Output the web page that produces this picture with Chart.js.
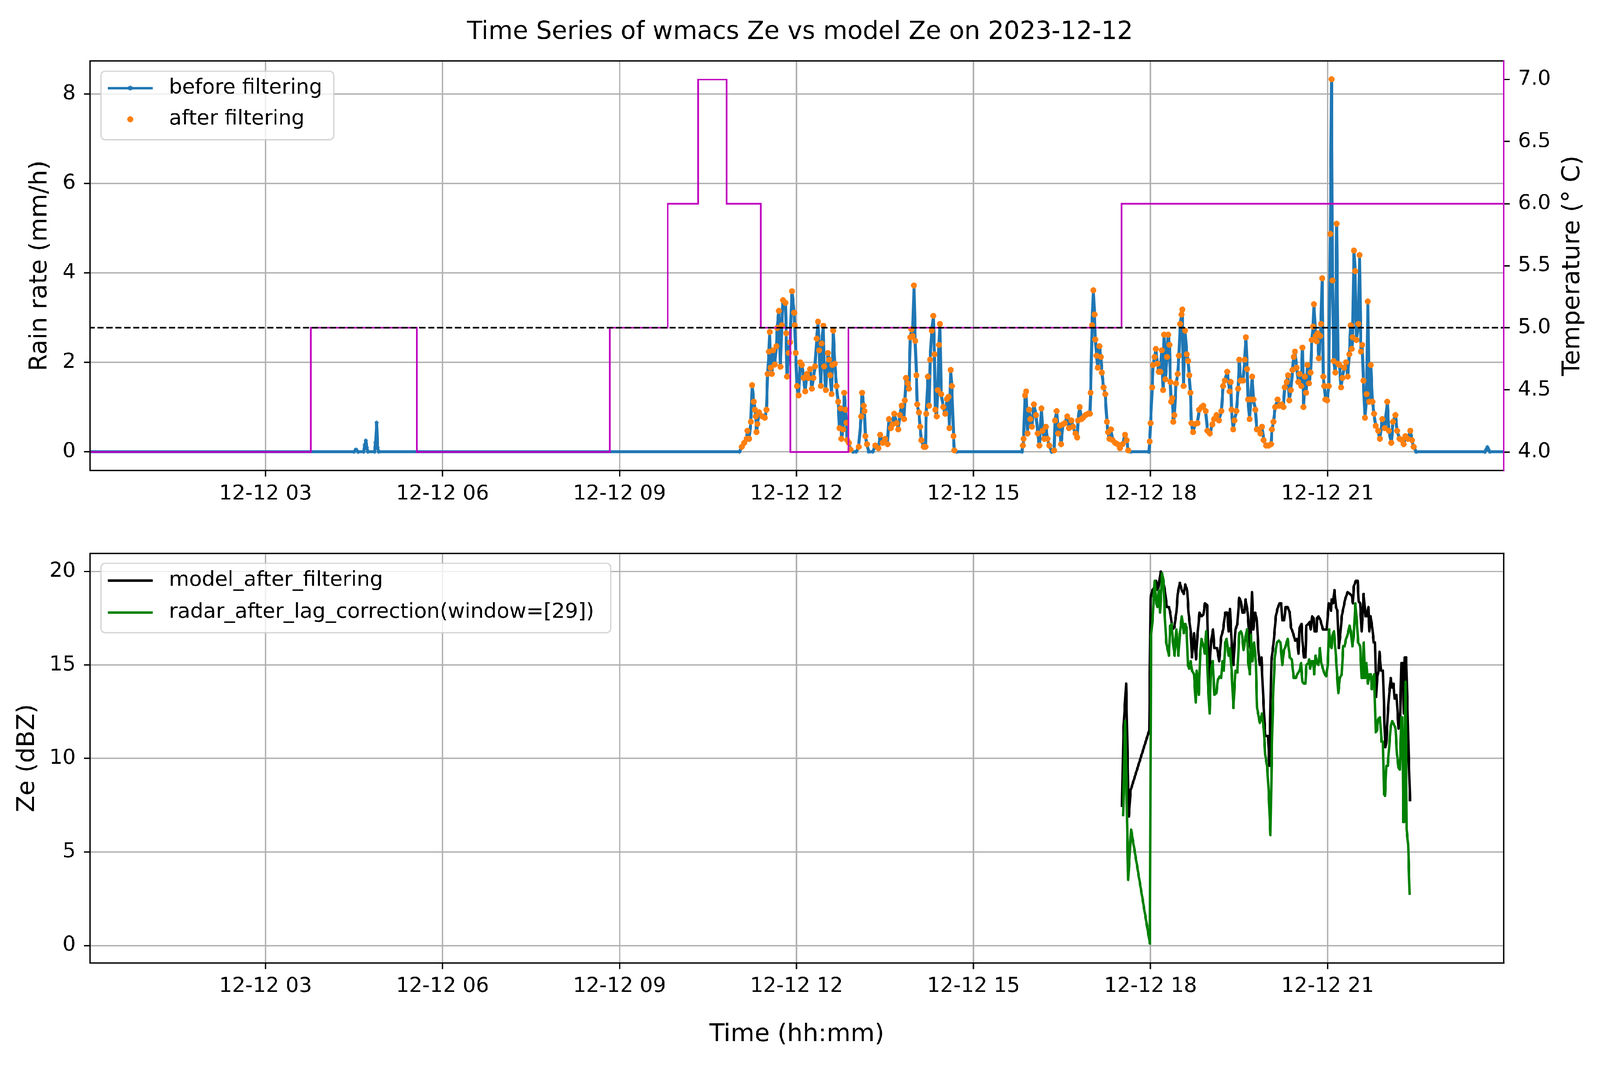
<!DOCTYPE html>
<html>
<head>
<meta charset="utf-8">
<title>Time Series of wmacs Ze vs model Ze on 2023-12-12</title>
<script src="https://cdn.jsdelivr.net/npm/chart.js@4.4.1/dist/chart.umd.min.js"></script>
<style>
  html, body { margin: 0; padding: 0; width: 100%; height: 100%; overflow: hidden; background: #fff; }
  #wrap { position: fixed; left: 0; top: 0; width: 100vw; height: 100vh; overflow: hidden; background: #fff; }
  #page { position: absolute; left: 0; top: 0; width: 5263px; background: #fff; transform-origin: 0 0; }
  canvas { position: absolute; left: 0; }
</style>
</head>
<body>
<div id="wrap">
  <div id="page">
    <canvas id="rainChart"></canvas>
    <canvas id="zeChart"></canvas>
  </div>
</div>
<script>
// Time axis: minutes after 2023-12-12 00:00
const tickMinutes = [180, 360, 540, 720, 900, 1080, 1260];
const tickLabels = ['12-12 03', '12-12 06', '12-12 09', '12-12 12', '12-12 15', '12-12 18', '12-12 21'];

// Rain rate before filtering (mm/h)
const rainTimes = [
  0, 270, 272, 274, 280, 281, 282, 283, 284, 291, 292, 293, 294, 295, 662,
  664.3, 666.8, 669.3, 670.0, 671.8, 673.5, 674.8, 676.5, 677.7, 678.5, 679.3, 680.2, 681.9, 685.2, 687.7,
  689.4, 690.6, 691.9, 692.7, 693.6, 694.9, 696.1, 697.8, 699.5, 700.3, 702.0, 703.6, 705.0, 706.2, 708.7,
  709.5, 710.3, 712.0, 713.4, 715.4, 717.5, 718.2, 719.2, 720.4, 722.1, 723.7, 725.4, 727.1, 728.8, 730.4,
  732.1, 733.8, 735.5, 737.2, 738.8, 740.5, 741.8, 743.0, 744.7, 745.5, 747.2, 748.0, 749.7, 751.9, 753.1,
  754.2, 755.6, 756.4, 757.3, 758.9, 760.6, 762.3, 763.6, 764.8, 765.6, 767.3, 768.5, 769.8, 770.7, 771.5,
  773.2, 774.8, 777.4, 780.7, 783.2, 785.7, 786.7, 788.3, 789.1, 790.0, 791.6, 793.3, 797.5, 800.0, 803.3,
  805.0, 807.5, 810.0, 812.5, 813.9, 815.9, 817.6, 819.3, 821.8, 823.4, 825.1, 826.8, 829.3, 830.1, 831.3,
  833.0, 834.3, 835.7, 836.8, 838.0, 839.4, 840.7, 841.9, 842.7, 844.4, 845.7, 846.9, 849.4, 851.1, 851.9,
  853.6, 854.8, 855.8, 857.5, 859.1, 860.3, 861.1, 862.5, 863.6, 864.8, 865.8, 867.0, 869.2, 871.2, 872.9,
  874.5, 875.4, 876.7, 877.9, 879.6, 880.4, 882.9,
  949.3, 950.1, 950.9, 952.3, 953.5, 954.8, 956.5, 957.6, 959.3, 961.3, 963.5, 965.2, 966.9, 969.0, 970.2,
  971.9, 973.6, 975.2, 976.9, 979.4, 981.9, 982.8, 984.5, 986.1, 987.8, 989.0, 990.8, 992.8, 995.3, 997.0,
  999.5, 1001.2, 1003.7, 1005.4, 1006.2, 1007.9, 1009.6, 1011.3, 1013.8, 1016.3, 1018.3, 1019.0, 1020.5, 1021.8, 1023.0,
  1023.8, 1025.0, 1026.3, 1028.0, 1029.4, 1030.5, 1032.2, 1033.9, 1035.6, 1036.7, 1038.1, 1039.7, 1041.4, 1043.9, 1046.4,
  1048.9, 1051.5, 1054.0, 1055.7, 1057.3, 1059.8, 1078.3, 1079.1, 1080.0, 1081.6, 1082.5, 1084.1, 1085.3, 1087.0, 1088.3,
  1090.0, 1091.3, 1092.7, 1093.7, 1095.0, 1096.7, 1097.9, 1099.2, 1100.1, 1100.9, 1102.1, 1103.1, 1104.2, 1105.9, 1107.6,
  1108.8, 1110.1, 1111.5, 1112.3, 1113.5, 1115.1, 1116.8, 1118.2, 1119.3, 1120.5, 1121.5, 1123.2, 1125.2, 1127.7, 1129.4,
  1131.9, 1133.6, 1136.1, 1137.8, 1140.3, 1142.8, 1144.5, 1147.0, 1149.5, 1152.0, 1153.7, 1155.4, 1157.9, 1160.4,
  1161.5, 1162.3, 1164.0, 1165.2, 1167.3, 1169.0, 1170.2, 1171.5, 1174.0, 1175.7, 1176.9, 1178.2, 1179.1, 1180.7, 1181.9,
  1183.3, 1184.6, 1186.6, 1188.0, 1190.0, 1191.6, 1193.3, 1195.0, 1197.5, 1200.0, 1202.5, 1203.4, 1205.0, 1206.7, 1209.2,
  1210.9, 1213.4, 1215.1, 1216.4, 1218.4, 1219.8, 1221.0, 1222.6, 1224.3, 1225.5, 1226.8, 1228.5, 1230.2, 1231.5, 1233.2,
  1234.4, 1235.5, 1236.9, 1238.2, 1239.4, 1241.1, 1242.7, 1243.9, 1245.3, 1246.1, 1247.8, 1248.9, 1249.9, 1251.1, 1252.5,
  1253.3, 1254.5, 1255.6, 1256.6, 1257.8, 1259.5, 1261.2, 1262.8, 1264.0, 1265.0, 1266.2, 1267.9, 1269.2, 1270.7, 1272.1,
  1273.7, 1275.1, 1276.8, 1278.8, 1280.4, 1282.1, 1283.5, 1284.6, 1285.5, 1286.8, 1288.0, 1289.3, 1291.3, 1292.5, 1293.8,
  1295.2, 1296.4, 1298.0, 1299.7, 1300.9, 1302.2, 1303.9, 1305.6, 1307.2, 1308.9, 1311.4, 1313.1, 1315.6, 1318.1, 1320.7,
  1322.3, 1324.8, 1326.5, 1329.0, 1330.7, 1333.2, 1335.7, 1337.4, 1339.1, 1341.6, 1344.1, 1345.8, 1347.5, 1350.0,
  1420, 1421.5, 1422.5, 1423.5, 1425, 1440
];
const rainValues = [
  0, 0, 0.05, 0, 0, 0.15, 0.25, 0.1, 0, 0, 0.2, 0.65, 0.1, 0, 0,
  0.11, 0.20, 0.29, 0.47, 0.29, 0.67, 1.49, 1.12, 0.94, 0.79, 0.44, 0.62, 0.88, 0.79, 0.76,
  0.94, 1.74, 2.24, 2.68, 1.88, 1.74, 2.27, 1.95, 2.36, 2.77, 3.15, 1.90, 2.83, 3.39, 3.33,
  2.65, 1.68, 2.21, 2.45, 3.59, 3.11, 2.83, 2.21, 1.47, 1.26, 2.00, 1.94, 1.65, 1.35, 1.74,
  1.65, 1.85, 1.41, 1.65, 1.91, 2.53, 2.91, 2.27, 1.47, 2.42, 2.82, 1.91, 1.38, 2.21, 2.06,
  1.71, 1.29, 1.94, 2.71, 1.97, 1.47, 1.12, 0.53, 0.97, 0.29, 0.50, 1.32, 0.94, 0.65, 0.26,
  0.20, 0.05, 0, 0, 0.11, 0.79, 1.32, 1.03, 0.91, 0.35, 0.17, 0, 0, 0.14, 0.08,
  0.38, 0.20, 0.29, 0.17, 0.73, 0.53, 0.61, 0.85, 0.64, 0.50, 0.82, 1.03, 0.73, 1.15, 1.65,
  1.53, 1.41, 2.56, 2.74, 2.59, 3.72, 2.48, 1.71, 1.06, 0.88, 0.56, 0.26, 0.11, 0.11, 0.85,
  1.68, 1.03, 2.06, 2.71, 3.04, 2.18, 0.94, 0.79, 1.38, 2.39, 2.86, 1.29, 1.00, 0.85, 1.18,
  1.23, 0.53, 1.83, 1.47, 0.35, 0.03, 0,
  0, 0.14, 0.29, 1.26, 1.35, 0.41, 0.94, 0.73, 0.56, 1.06, 0.82, 0.41, 0.14, 0.97, 0.47,
  0.29, 0.56, 0.29, 0.14, 0, 0.03, 0.70, 0.91, 0.41, 0.59, 0.17, 0.61, 0.64, 0.79, 0.53,
  0.70, 0.56, 0.41, 0.32, 0.70, 1.00, 0.73, 0.76, 0.82, 0.85, 0.85, 1.32, 2.83, 3.61, 3.07,
  2.51, 2.15, 1.88, 2.36, 2.12, 1.77, 1.44, 1.29, 0.67, 0.44, 0.29, 0.50, 0.26, 0.20, 0.17,
  0.08, 0.17, 0.38, 0.26, 0.03, 0, 0, 0.23, 0.64, 1.44, 1.94, 2.12, 2.30, 1.97, 1.79,
  1.79, 2.27, 1.38, 2.62, 1.62, 2.12, 2.62, 2.39, 1.56, 1.12, 1.20, 0.67, 0.82, 1.53, 1.74,
  2.15, 2.86, 3.07, 3.18, 1.47, 2.71, 2.18, 2.03, 1.71, 1.32, 0.64, 0.44, 0.62, 0.64, 0.94,
  1.00, 1.03, 0.91, 0.47, 0.41, 0.61, 0.73, 0.82, 0.70, 0.91, 1.47, 1.59, 1.79, 1.35,
  1.56, 0.94, 0.50, 0.70, 0.91, 1.41, 2.06, 1.59, 1.59, 2.06, 2.56, 1.85, 1.17, 0.73, 1.17,
  1.68, 1.17, 0.94, 0.50, 0.50, 0.41, 0.56, 0.26, 0.14, 0.14, 0.17, 0.50, 0.67, 1.00, 1.17,
  1.03, 1.06, 1.00, 1.44, 1.56, 1.71, 1.15, 1.38, 1.83, 2.12, 2.24, 1.88, 1.56, 1.74, 1.47,
  2.33, 1.00, 1.68, 1.32, 1.94, 1.53, 1.77, 2.50, 2.80, 3.30, 2.59, 2.47, 2.65, 2.09, 2.59,
  2.86, 3.88, 1.68, 1.47, 1.17, 1.15, 1.47, 4.87, 8.33, 3.83, 2.03, 1.77, 5.10, 1.97, 1.94,
  1.44, 1.65, 1.88, 2.00, 1.68, 2.18, 2.83, 2.30, 2.56, 4.50, 4.04, 2.50, 2.86, 4.40, 2.24,
  2.39, 1.59, 0.76, 1.29, 3.36, 1.12, 1.94, 1.12, 0.85, 0.58, 0.47, 0.29, 0.73, 0.53, 1.12,
  0.47, 0.20, 0.67, 0.82, 0.47, 0.29, 0.26, 0.17, 0.35, 0.29, 0.47, 0.26, 0.11, 0,
  0, 0.05, 0.1, 0.05, 0, 0
];
// Samples kept by the filter (rain event window, minutes)
const filterWindow = [600, 1380];

// Temperature (deg C), value holds until the next change time
const tempTimes = [0, 226, 334, 530, 589, 620, 649, 683.5, 713.7, 772.7, 1050.6, 1440];
const tempValues = [4, 5, 4, 5, 6, 7, 6, 5, 4, 5, 6, 6];
const tempThreshold = 5.0;

// Ze (dBZ)
const modelTimes = [
  1051.0, 1052.4, 1055.1, 1057.9, 1059.7, 1078.6, 1080.0, 1081.8, 1083.4, 1085.5, 1087.6, 1090.3, 1092.4, 1094.5, 1096.5,
  1098.6, 1100.0, 1102.1, 1104.1, 1106.2, 1107.6, 1109.7, 1111.7, 1113.8, 1115.2, 1117.2, 1118.6, 1120.7, 1122.1, 1124.2,
  1126.2, 1127.6, 1129.7, 1131.7, 1133.8, 1135.2, 1137.5, 1139.3, 1141.4, 1143.5, 1144.9, 1147.6, 1149.7, 1151.8, 1153.8,
  1155.9, 1158.0, 1159.3, 1160.7, 1162.4, 1164.2, 1166.3, 1168.3, 1170.1, 1171.8, 1173.4, 1175.2, 1176.6, 1178.7, 1180.1,
  1181.4, 1183.1, 1184.5, 1186.3, 1188.1, 1189.7, 1191.1, 1192.8, 1194.5, 1196.6, 1199.4, 1200.8, 1202.8, 1204.9, 1207.4,
  1209.0, 1211.1, 1212.9, 1213.9, 1215.9, 1217.3, 1219.4, 1221.5, 1222.8, 1224.9, 1227.0, 1229.0, 1230.4,
  1231.5, 1233.5, 1234.4, 1235.9, 1237.4, 1238.4, 1240.4, 1241.8, 1242.8, 1244.3, 1245.8, 1246.8, 1248.7, 1249.2, 1250.7,
  1252.7, 1255.2, 1257.1, 1259.1, 1261.1, 1263.0, 1263.5, 1264.0, 1265.5, 1267.0, 1268.5, 1270.0, 1271.4, 1272.9, 1274.4,
  1276.3, 1277.8, 1280.3, 1282.8, 1284.7, 1285.7, 1286.7, 1288.7, 1290.6, 1291.6, 1293.1, 1294.6, 1296.6, 1298.5, 1300.0,
  1301.5, 1302.5, 1303.7, 1305.4, 1306.9, 1308.2, 1309.4, 1310.4, 1311.8, 1312.8, 1314.3, 1316.3, 1317.8, 1318.7, 1319.7,
  1321.2, 1322.7, 1324.2, 1325.6, 1327.1, 1328.1, 1330.1, 1332.1, 1333.5, 1335.0, 1336.5, 1337.5, 1338.5, 1339.9, 1341.4,
  1342.4, 1343.9
];
const modelValues = [
  7.4, 11.5, 14.0, 6.9, 8.3, 11.5, 18.6, 19.0, 19.1, 19.5, 19.0, 20.0, 19.6, 19.0, 18.1,
  18.1, 17.8, 16.9, 17.0, 17.8, 18.8, 19.4, 19.0, 18.8, 19.3, 19.0, 17.8, 16.8, 15.4, 16.7,
  15.3, 16.5, 17.8, 17.6, 17.7, 18.3, 18.2, 14.1, 16.2, 16.9, 15.9, 15.9, 15.2, 16.5, 16.9,
  17.8, 17.8, 16.8, 18.0, 16.2, 15.0, 16.9, 17.2, 18.6, 18.4, 17.8, 17.8, 18.5, 17.8, 16.8,
  15.9, 18.9, 16.9, 17.8, 17.4, 15.7, 15.0, 15.4, 13.3, 11.2, 11.2, 9.6, 15.2, 16.1, 17.6,
  18.0, 18.3, 18.3, 17.4, 17.4, 18.1, 18.1, 17.8, 17.0, 16.7, 16.3, 16.4, 15.6,
  17.0, 17.2, 16.3, 15.4, 15.4, 17.1, 17.2, 17.3, 16.9, 17.6, 17.5, 16.8, 16.8, 17.5, 17.6,
  17.4, 16.9, 16.9, 16.9, 18.3, 18.2, 17.9, 18.5, 18.3, 19.0, 18.1, 17.9, 15.9, 16.6, 17.6,
  18.1, 18.5, 18.9, 18.8, 18.7, 18.3, 19.2, 19.5, 19.5, 18.4, 18.3, 16.8, 18.8, 17.6, 17.6,
  18.1, 16.8, 17.6, 17.0, 16.2, 16.2, 13.3, 14.3, 14.7, 15.7, 14.7, 14.7, 11.9, 10.6, 10.8,
  12.4, 13.5, 14.3, 13.8, 14.0, 13.2, 13.4, 11.6, 11.7, 15.1, 15.1, 12.4, 15.4, 15.4, 12.4,
  10.2, 7.7
];
const radarTimes = [
  1052.0, 1054.2, 1057.2, 1060.2, 1079.3, 1080.4, 1082.1, 1084.1, 1085.9, 1086.9, 1088.3, 1089.6, 1091.7, 1093.1, 1094.5,
  1095.9, 1098.6, 1100.0, 1101.4, 1102.8, 1104.4, 1106.2, 1108.3, 1109.7, 1111.7, 1113.8, 1115.2, 1116.6, 1117.9, 1119.3,
  1120.7, 1122.1, 1124.2, 1125.9, 1126.9, 1129.0, 1130.4, 1131.7, 1133.8, 1135.2, 1136.6, 1138.4, 1140.0, 1141.4, 1143.2,
  1144.9, 1146.9, 1148.3, 1150.4, 1151.8, 1153.1, 1154.5, 1155.9, 1157.3, 1159.3, 1160.7, 1162.4, 1164.2, 1166.3, 1168.3,
  1170.1, 1171.8, 1173.1, 1174.5, 1176.6, 1178.0, 1179.4, 1181.0, 1182.1, 1183.5, 1185.3, 1187.0, 1188.3, 1191.1, 1193.2,
  1195.2, 1196.6, 1198.7, 1200.1, 1201.9, 1203.5, 1204.9, 1206.3, 1208.4, 1210.4, 1212.1, 1213.9, 1215.7, 1217.3, 1219.4,
  1221.5, 1223.5, 1225.6, 1227.7, 1229.1,
  1231.5, 1233.0, 1234.4, 1235.9, 1237.4, 1238.4, 1240.4, 1241.3, 1242.3, 1243.8, 1245.3, 1246.3, 1247.8, 1249.2, 1250.7,
  1252.2, 1253.2, 1255.2, 1257.1, 1258.6, 1260.1, 1261.6, 1263.0, 1264.0, 1265.0, 1266.5, 1268.0, 1269.9, 1270.9, 1272.4,
  1274.4, 1275.9, 1277.3, 1278.8, 1280.3, 1282.3, 1283.7, 1285.2, 1286.7, 1288.2, 1289.7, 1291.1, 1293.1, 1294.6, 1295.8,
  1296.8, 1298.0, 1299.5, 1301.0, 1302.5, 1304.0, 1304.9, 1306.2, 1307.4, 1308.9, 1310.2, 1311.3, 1313.3, 1314.8, 1316.3,
  1317.3, 1318.4, 1319.7, 1321.2, 1322.7, 1324.2, 1325.6, 1327.6, 1329.1, 1330.6, 1332.1, 1333.5, 1335.0, 1336.0, 1337.0,
  1337.8, 1339.2, 1340.4, 1341.9, 1343.4
];
const radarValues = [
  6.9, 12.0, 3.5, 6.2, 0.1, 16.5, 17.5, 19.5, 18.3, 18.1, 19.0, 17.8, 19.9, 19.5, 17.6,
  16.2, 15.5, 17.1, 17.2, 16.2, 15.5, 16.9, 15.5, 16.6, 17.6, 16.7, 17.2, 17.0, 15.0, 14.8,
  15.2, 14.7, 14.5, 13.0, 14.7, 13.4, 15.5, 16.4, 16.0, 15.6, 16.8, 14.0, 12.4, 14.7, 15.2,
  13.4, 13.5, 14.2, 14.4, 14.3, 15.2, 14.7, 16.2, 16.4, 15.5, 15.9, 14.7, 12.7, 14.7, 14.6,
  16.7, 16.8, 16.6, 15.8, 16.5, 16.9, 15.1, 14.5, 16.6, 15.2, 16.2, 15.2, 12.7, 11.9, 12.4,
  11.5, 10.2, 9.5, 8.2, 5.9, 11.0, 13.7, 15.4, 16.2, 16.3, 16.2, 15.0, 15.8, 16.0, 16.4,
  15.4, 15.3, 14.3, 14.3, 14.5,
  14.7, 15.1, 14.1, 14.0, 14.0, 15.0, 15.1, 15.3, 14.8, 15.2, 15.2, 14.5, 15.5, 15.1, 15.0,
  15.9, 15.2, 14.8, 14.5, 14.4, 15.0, 16.9, 16.0, 15.9, 16.6, 16.8, 15.8, 14.3, 13.5, 14.3,
  14.5, 16.0, 16.0, 16.4, 16.6, 17.1, 16.8, 16.0, 16.6, 18.3, 17.3, 16.2, 16.0, 14.3, 14.3,
  16.2, 14.3, 15.1, 14.0, 14.5, 14.5, 13.7, 14.3, 14.5, 11.4, 11.5, 12.1, 12.2, 10.9, 10.9,
  8.1, 8.0, 9.6, 9.6, 10.7, 11.7, 12.0, 11.8, 11.6, 10.2, 9.5, 9.4, 12.2, 12.2, 6.6,
  6.6, 14.1, 6.2, 5.4, 2.7
];

const titleText = 'Time Series of wmacs Ze vs model Ze on 2023-12-12';
const tempLabel = 'Temperature (\u00b0 C)';

// Page layout: the figure is 5263 units wide; its height follows the viewport shape
const figW = 5263;
const escala = window.innerWidth / figW;
let figH = window.innerHeight / escala;
if (!(figH > 0)) figH = 2740;
figH = Math.min(Math.max(figH, 2000), 4200);
const ky = figH / 2740;

const topH = Math.round(1330 * ky);
const botH = Math.round(figH) - topH;
const rainTop = 156 * ky;
const rainBottom = 1205 * ky;
const zeTop = 1417 * ky - topH;
const zeBottom = 2466 * ky - topH;

const page = document.getElementById('page');
page.style.height = Math.round(figH) + 'px';
page.style.transform = 'scale(' + escala + ')';
const rainCanvas = document.getElementById('rainChart');
rainCanvas.width = figW;
rainCanvas.height = topH;
rainCanvas.style.top = '0px';
const zeCanvas = document.getElementById('zeChart');
zeCanvas.width = figW;
zeCanvas.height = botH;
zeCanvas.style.top = topH + 'px';

Chart.defaults.font.family = "'DejaVu Sans', sans-serif";
Chart.defaults.color = '#000';

const toPoints = (times, values) => times.map((t, i) => ({ x: t, y: values[i] }));

const rainPoints = toPoints(rainTimes, rainValues);
const keptPoints = rainPoints.filter(p => p.x >= filterWindow[0] && p.x <= filterWindow[1] && p.y > 0);

// Shared look of the axes
const gridStyle = { color: '#b0b0b0', lineWidth: 4.5, tickColor: '#000', tickLength: 20, tickWidth: 4.5 };

function timeAxis(height, title) {
  return {
    type: 'linear',
    min: 1.5,
    max: 1439,
    afterFit: (scale) => { scale.height = height; },
    afterBuildTicks: (scale) => { scale.ticks = tickMinutes.map(v => ({ value: v })); },
    ticks: {
      callback: (v) => tickLabels[tickMinutes.indexOf(v)],
      font: { size: 68 },
      padding: 17,
      maxRotation: 0,
      autoSkip: false
    },
    grid: gridStyle,
    border: { display: false },
    title: title
  };
}

function valueAxis(min, max, ticks, decimals, position, title, width) {
  return {
    type: 'linear',
    position: position,
    min: min,
    max: max,
    afterFit: (scale) => { scale.width = width; },
    afterBuildTicks: (scale) => { scale.ticks = ticks.map(v => ({ value: v })); },
    ticks: {
      callback: (v) => v.toFixed(decimals),
      font: { size: 68 },
      padding: 27
    },
    grid: position === 'left' ? gridStyle : { drawOnChartArea: false, tickColor: '#000', tickLength: 20, tickWidth: 4.5 },
    border: { display: false },
    title: title
  };
}

// Axes frame, drawn over the data like matplotlib spines
function makeFrame(rightColor) {
  return {
    id: 'frame',
    afterDatasetsDraw(chart) {
      const { left, right, top, bottom } = chart.chartArea;
      const c = chart.ctx;
      c.save();
      c.lineWidth = 4.5;
      c.lineCap = 'square';
      c.strokeStyle = '#000';
      c.beginPath();
      c.moveTo(right, top);
      c.lineTo(left, top);
      c.lineTo(left, bottom);
      c.lineTo(right, bottom);
      c.stroke();
      c.strokeStyle = rightColor;
      c.beginPath();
      c.moveTo(right, top);
      c.lineTo(right, bottom);
      c.stroke();
      c.restore();
    }
  };
}

function roundedBox(c, x, y, w, h, r) {
  c.beginPath();
  c.moveTo(x + r, y);
  c.arcTo(x + w, y, x + w, y + h, r);
  c.arcTo(x + w, y + h, x, y + h, r);
  c.arcTo(x, y + h, x, y, r);
  c.arcTo(x, y, x + w, y, r);
  c.closePath();
}

// Legend box in the upper left corner of the axes
function makeLegend(box, entries) {
  return {
    id: 'boxLegend',
    afterDraw(chart) {
      const c = chart.ctx;
      const y0 = chart.chartArea.top + box.gap;
      c.save();
      roundedBox(c, box.x, y0, box.w, box.h, 14);
      c.fillStyle = 'rgba(255,255,255,0.8)';
      c.fill();
      c.lineWidth = 4.5;
      c.strokeStyle = 'rgba(204,204,204,0.8)';
      c.stroke();
      entries.forEach((e, i) => {
        const y = y0 + box.rows[i];
        if (e.line) {
          c.strokeStyle = e.color;
          c.lineWidth = 8.3;
          c.lineCap = 'butt';
          c.beginPath();
          c.moveTo(355, y);
          c.lineTo(502, y);
          c.stroke();
        }
        if (e.marker) {
          c.strokeStyle = e.color;
          c.fillStyle = e.color;
          c.lineWidth = e.marker === 'star' ? 3 : 1;
          Chart.helpers.drawPoint(c, { pointStyle: e.marker, radius: e.marker === 'star' ? 8 : 9.5, borderWidth: c.lineWidth, rotation: 0 }, 428.5, y);
        }
        c.fillStyle = '#000';
        c.font = "68px 'DejaVu Sans'";
        c.textAlign = 'left';
        c.textBaseline = 'middle';
        c.fillText(e.label, 556, y);
      });
      c.restore();
    }
  };
}

// Right axis title reads upwards like the left one
const tempTitlePlugin = {
  id: 'tempTitle',
  afterDraw(chart) {
    const c = chart.ctx;
    c.save();
    c.translate(chart.chartArea.right + 228, (chart.chartArea.top + chart.chartArea.bottom) / 2);
    c.rotate(-Math.PI / 2);
    c.font = "81px 'DejaVu Sans'";
    c.textAlign = 'center';
    c.textBaseline = 'middle';
    c.fillStyle = '#000';
    c.fillText(tempLabel, 0, 0);
    c.restore();
  }
};

function crearGraficaLluvia() {
  const titleTop = Math.max(83 * ky - 49.2, 0);
  new Chart(rainCanvas.getContext('2d'), {
    type: 'line',
    data: {
      datasets: [
        {
          label: 'threshold',
          yAxisID: 'yT',
          data: [{ x: 0, y: tempThreshold }, { x: 1440, y: tempThreshold }],
          borderColor: '#000',
          borderWidth: 5.5,
          borderDash: [20.5, 8.9],
          pointRadius: 0,
          order: 0
        },
        {
          label: 'temperature',
          yAxisID: 'yT',
          data: toPoints(tempTimes, tempValues),
          stepped: true,
          borderColor: '#bf00bf',
          borderWidth: 5.5,
          pointRadius: 0,
          order: 1
        },
        {
          label: 'after filtering',
          yAxisID: 'y',
          data: keptPoints,
          showLine: false,
          pointRadius: 9.5,
          pointBackgroundColor: '#ff7f0e',
          pointBorderColor: '#ff7f0e',
          pointBorderWidth: 1,
          order: 2
        },
        {
          label: 'before filtering',
          yAxisID: 'y',
          data: rainPoints,
          borderColor: '#1f77b4',
          borderWidth: 10,
          borderJoinStyle: 'round',
          pointStyle: 'star',
          pointRadius: 7,
          pointBorderWidth: 3,
          pointBackgroundColor: '#1f77b4',
          pointBorderColor: '#1f77b4',
          order: 3
        }
      ]
    },
    options: {
      responsive: false,
      animation: false,
      devicePixelRatio: 1,
      events: [],
      layout: { padding: 0 },
      plugins: {
        legend: { display: false },
        tooltip: { enabled: false },
        title: {
          display: true,
          text: titleText,
          font: { size: 82, weight: 'normal' },
          padding: { top: titleTop, bottom: Math.max(rainTop - titleTop - 98.4, 0) }
        }
      },
      scales: {
        x: timeAxis(topH - rainBottom, { display: false }),
        y: valueAxis(-0.42, 8.74, [0, 2, 4, 6, 8], 0, 'left',
          { display: true, text: 'Rain rate (mm/h)', font: { size: 81 }, padding: { top: 83, bottom: 0 } }, 296),
        yT: valueAxis(3.85, 7.15, [4, 4.5, 5, 5.5, 6, 6.5, 7], 1, 'right', { display: false }, 317)
      }
    },
    plugins: [
      makeFrame('#bf00bf'),
      makeLegend({ x: 332, gap: 34, w: 766, h: 225, rows: [55.5, 158] }, [
        { label: 'before filtering', color: '#1f77b4', line: true, marker: 'star' },
        { label: 'after filtering', color: '#ff7f0e', line: false, marker: 'circle' }
      ]),
      tempTitlePlugin
    ]
  });
}

function crearGraficaZe() {
  const xTitleBottom = Math.max((2740 - 2650) * ky - 48.6, 0);
  new Chart(zeCanvas.getContext('2d'), {
    type: 'line',
    data: {
      datasets: [
        {
          label: 'radar_after_lag_correction(window=[29])',
          data: toPoints(radarTimes, radarValues),
          borderColor: '#008000',
          borderWidth: 8.3,
          borderJoinStyle: 'round',
          pointRadius: 0,
          order: 0
        },
        {
          label: 'model_after_filtering',
          data: toPoints(modelTimes, modelValues),
          borderColor: '#000',
          borderWidth: 8.3,
          borderJoinStyle: 'round',
          pointRadius: 0,
          order: 1
        }
      ]
    },
    options: {
      responsive: false,
      animation: false,
      devicePixelRatio: 1,
      events: [],
      layout: { padding: { top: zeTop, right: 317, left: 0, bottom: 0 } },
      plugins: {
        legend: { display: false },
        tooltip: { enabled: false }
      },
      scales: {
        x: timeAxis(botH - zeBottom, { display: true, text: 'Time (hh:mm)', font: { size: 81 }, padding: { top: 0, bottom: xTitleBottom } }),
        y: valueAxis(-0.94, 20.97, [0, 5, 10, 15, 20], 0, 'left',
          { display: true, text: 'Ze (dBZ)', font: { size: 81 }, padding: { top: 42, bottom: 0 } }, 296)
      }
    },
    plugins: [
      makeFrame('#000'),
      makeLegend({ x: 332, gap: 33, w: 1677, h: 228, rows: [57, 162] }, [
        { label: 'model_after_filtering', color: '#000', line: true, marker: null },
        { label: 'radar_after_lag_correction(window=[29])', color: '#008000', line: true, marker: null }
      ])
    ]
  });
}

crearGraficaLluvia();
crearGraficaZe();
</script>
</body>
</html>
